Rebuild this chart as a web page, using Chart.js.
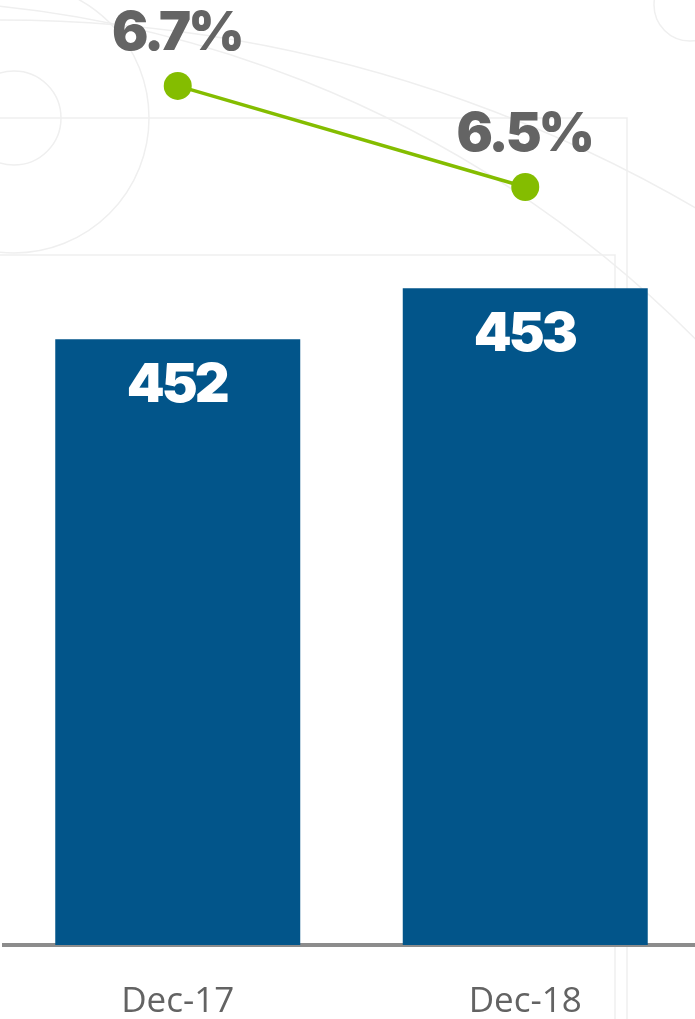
<!DOCTYPE html>
<html>
<head>
<meta charset="utf-8">
<script src="https://cdn.jsdelivr.net/npm/chart.js@4.4.1/dist/chart.umd.min.js"></script>
<style>
  html, body { margin: 0; padding: 0; background: #fff; overflow: hidden; }
  .wrap { position: relative; width: 699px; height: 1019px; }
</style>
</head>
<body>
<div class="wrap"><canvas id="chart"></canvas></div>
<script>
/* ─── Data ───────────────────── */
const periods = ['Dec-17', 'Dec-18'];
const barValues = [452, 453];
const lineValues = [6.7, 6.5];

/* ─── Faint background ornament ───────────────────── */
const ornament = {
  id: 'ornament',
  beforeDraw(chart) {
    const { ctx } = chart;
    ctx.save();
    ctx.strokeStyle = '#EFEFEF';
    ctx.lineWidth = 1.5;
    ctx.beginPath(); ctx.arc(14, 118, 47, 0, Math.PI * 2); ctx.stroke();
    ctx.beginPath(); ctx.arc(14, 118, 135, 0, Math.PI * 2); ctx.stroke();
    ctx.beginPath(); ctx.arc(690, 5, 36, 0, Math.PI * 2); ctx.stroke();
    ctx.beginPath(); ctx.arc(-120, 1150, 1150, -Math.PI / 2, 0); ctx.stroke();
    ctx.beginPath(); ctx.arc(0, 1400, 1380, -Math.PI / 2, -0.15); ctx.stroke();
    ctx.beginPath();
    ctx.moveTo(0, 118); ctx.lineTo(627, 118); ctx.lineTo(627, 1019);
    ctx.moveTo(0, 255); ctx.lineTo(615, 255); ctx.lineTo(615, 1019);
    ctx.stroke();
    ctx.restore();
  }
};

/* ─── Value labels ───────────────────── */
const valueLabels = {
  id: 'valueLabels',
  afterDatasetsDraw(chart) {
    const { ctx } = chart;
    ctx.save();
    ctx.textAlign = 'center';
    ctx.textBaseline = 'alphabetic';
    ctx.font = "900 54px Inter, Lato, sans-serif";
    ctx.letterSpacing = '-3px';

    chart.getDatasetMeta(1).data.forEach((bar, i) => {
      ctx.fillStyle = '#FFFFFF';
      ctx.fillText(String(barValues[i]), bar.x - 1, bar.y + 63);
    });
    chart.getDatasetMeta(0).data.forEach((pt, i) => {
      ctx.fillStyle = '#646464';
      ctx.fillText(lineValues[i].toFixed(1) + '%', pt.x - 1, pt.y - 36);
    });
    ctx.restore();
  }
};

new Chart(document.getElementById('chart'), {
  data: {
    labels: periods,
    datasets: [
      {
        type: 'line',
        data: lineValues,
        yAxisID: 'yLine',
        borderColor: '#84BD00',
        backgroundColor: '#84BD00',
        borderWidth: 3.5,
        pointRadius: 14,
        pointBorderWidth: 0,
        pointBackgroundColor: '#84BD00',
        tension: 0,
        clip: false,
        order: 0
      },
      {
        type: 'bar',
        data: barValues,
        yAxisID: 'yBar',
        backgroundColor: '#02558A',
        barPercentage: 0.705,
        categoryPercentage: 1,
        order: 1
      }
    ]
  },
  options: {
    responsive: true,
    maintainAspectRatio: false,
    animation: false,
    layout: { padding: { left: 4, right: 0, top: 0, bottom: 0 }, autoPadding: false },
    plugins: {
      legend: { display: false },
      tooltip: { enabled: false }
    },
    scales: {
      x: {
        grid: { display: false, drawTicks: false },
        border: { display: true, color: '#8C8C8C', width: 4 },
        ticks: {
          color: '#636363',
          padding: 36,
          font: { family: "'Open Sans', sans-serif", size: 35 }
        },
        afterFit(scale) { scale.height = 74; }
      },
      yBar: {
        display: false,
        min: 440.12,
        max: 458.65
      },
      yLine: {
        display: false,
        min: 5.0,
        max: 6.87
      }
    }
  },
  plugins: [ornament, valueLabels]
});
</script>
</body>
</html>
